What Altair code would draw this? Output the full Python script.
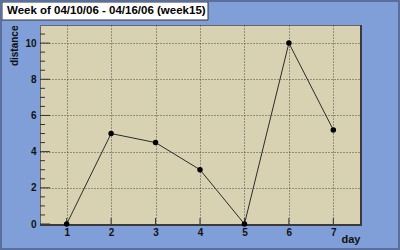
import altair as alt
import pandas as pd

days = [1, 2, 3, 4, 5, 6, 7]
distance = [0, 5, 4.5, 3, 0, 10, 5.2]
title_text = "Week of 04/10/06 - 04/16/06 (week15)"
y_major = [0, 2, 4, 6, 8, 10]
y_minor = [0.5, 1, 1.5, 2.5, 3, 3.5, 4.5, 5, 5.5, 6.5, 7, 7.5, 8.5, 9, 9.5, 10.5]

df = pd.DataFrame({"day": days, "distance": distance})
df_major = pd.DataFrame({"distance": y_major})
df_minor = pd.DataFrame({"distance": y_minor})
df_x = pd.DataFrame({"day": days})
one = pd.DataFrame({"k": [0]})

FONT = "Liberation Sans"
xs = alt.Scale(domain=[0.4, 7.6], nice=False, zero=False)
ys = alt.Scale(domain=[0, 11], nice=False)

xaxis = alt.Axis(values=days, format="d", title="day", labelFont=FONT,
                 labelFontWeight="bold", labelFontSize=10, labelColor="#111",
                 tickSize=0, labelPadding=3, domain=False, labelOverlap=False,
                 grid=True, gridColor="#333", gridDash=[1, 2], gridOpacity=0.85,
                 titleFont=FONT, titleFontWeight="bold", titleFontSize=11,
                 titleColor="#111", titleAnchor="end", titleAlign="right",
                 titleX=320, titleY=18, titleBaseline="alphabetic")
yaxis = alt.Axis(values=y_major, title="distance", labelFont=FONT,
                 labelFontWeight="bold", labelFontSize=10, labelColor="#111",
                 tickSize=0, labelPadding=4, domain=False, labelOverlap=False,
                 grid=True, gridColor="#333", gridDash=[1, 2], gridOpacity=0.85,
                 titleFont=FONT, titleFontWeight="bold", titleFontSize=10,
                 titleColor="#111", titleAnchor="end", titlePadding=5)

X = alt.X("day:Q", scale=xs, axis=xaxis)
Y = alt.Y("distance:Q", scale=ys, axis=yaxis)

base = alt.Chart(df)
line = base.mark_line(color="#2b2b2b", strokeWidth=1).encode(x=X, y=Y)
pts = base.mark_circle(color="black", opacity=1, size=30).encode(x=X, y=Y)

major_ticks = alt.Chart(df_major).mark_rule(color="#333", strokeWidth=1).encode(
    y=Y, x=alt.value(0), x2=alt.value(10))
minor_ticks = alt.Chart(df_minor).mark_rule(color="#333", strokeWidth=1).encode(
    y=Y, x=alt.value(0), x2=alt.value(5))
x_ticks = alt.Chart(df_x).mark_rule(color="#333", strokeWidth=1).encode(
    x=X, y=alt.value(199), y2=alt.value(193))

shadow_r = alt.Chart(one).mark_rule(color="#3a3a3a", strokeWidth=2).encode(
    x=alt.value(321), y=alt.value(0), y2=alt.value(200))
shadow_b = alt.Chart(one).mark_rule(color="#3a3a3a", strokeWidth=2).encode(
    y=alt.value(200), x=alt.value(0), x2=alt.value(322))

title_box = alt.Chart(one).mark_rect(fill="white", stroke="#333", strokeWidth=1,
                                     clip=False).encode(
    x=alt.value(-38), x2=alt.value(168), y=alt.value(-23), y2=alt.value(-5))
title = alt.Chart(one).mark_text(text=title_text, font=FONT, fontWeight="bold",
                                 fontSize=11.5, color="black", align="left",
                                 baseline="middle", clip=False).encode(
    x=alt.value(-33), y=alt.value(-14))
border = alt.Chart(one).mark_rect(filled=False, stroke="#5a6f9c", strokeWidth=2,
                                  clip=False).encode(
    x=alt.value(-39), x2=alt.value(359), y=alt.value(-24), y2=alt.value(224))

chart = alt.layer(line, major_ticks, minor_ticks, x_ticks, shadow_r, shadow_b, pts,
                  title_box, title, border).properties(
    width=320, height=199,
    autosize=alt.AutoSizeParams(type="none"),
    padding={"left": 40, "top": 25, "right": 40, "bottom": 26},
    background="#809fd8",
).configure_view(fill="#d8d2b2", stroke="#666", strokeWidth=1)

chart.save("out.html", embed_options={"renderer": "svg", "actions": False})
